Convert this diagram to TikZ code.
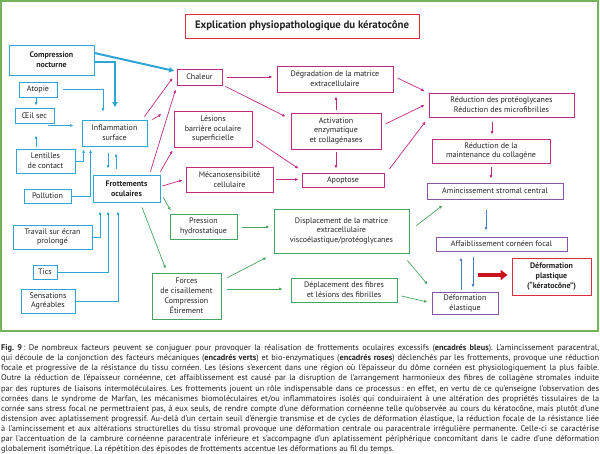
\documentclass[tikz,border=0pt]{standalone}
\usepackage{fontspec}
\setmainfont{PT Sans}
\usetikzlibrary{arrows.meta,calc}
\definecolor{blueC}{RGB}{45,165,215}
\definecolor{pinkC}{RGB}{195,40,130}
\definecolor{purpC}{RGB}{135,85,160}
\definecolor{greenC}{RGB}{70,165,95}
\definecolor{frameG}{RGB}{115,180,90}
\definecolor{redC}{RGB}{215,45,60}
\definecolor{darkredC}{RGB}{200,20,30}
\definecolor{steelC}{RGB}{75,125,195}
\definecolor{textC}{RGB}{35,35,35}
\newcommand\nfont{\fontsize{8}{9.9}\selectfont}
\newcommand\capline[1]{\makebox[598pt][s]{#1}}
\frenchspacing
\tikzset{
  box/.style={draw, line width=0.8pt, fill=white, inner sep=0pt, align=center, text=textC, font=\nfont},
  bb/.style={box, draw=blueC},
  pb/.style={box, draw=pinkC},
  gb/.style={box, draw=greenC},
  ub/.style={box, draw=purpC},
  rb/.style={box, draw=redC},
  ab/.style={draw=blueC, line width=0.7pt, -{Latex[length=3.5pt,width=3pt]}},
  abt/.style={draw=blueC, line width=2pt, -{Latex[length=5.5pt,width=6pt]}},
  ap/.style={draw=pinkC, line width=0.7pt, -{Latex[length=3.5pt,width=3pt]}},
  ag/.style={draw=greenC, line width=0.7pt, -{Latex[length=3.5pt,width=3pt]}},
  as/.style={draw=steelC, line width=0.7pt, -{Latex[length=3.5pt,width=3pt]}},
  ar/.style={draw=darkredC, line width=3.5pt, -{Triangle[length=7pt,width=10pt]}},
}
\begin{document}
\begin{tikzpicture}[x=1pt,y=-1pt]
\useasboundingbox (0,0) rectangle (600,454);
\draw[frameG, line width=1.3pt] (1,1) rectangle (598,331);
% title
\node[rb, minimum width=234pt, minimum height=24pt, font=\fontsize{10.8}{12}\selectfont\bfseries] (title) at (302,26) {Explication physiopathologique du kératocône};
% blue
\node[bb, minimum width=85pt, minimum height=30pt, font=\nfont\bfseries] (comp) at (51.5,60) {Compression\\nocturne};
\node[bb, minimum width=38pt, minimum height=15pt] (atopie) at (38,89.5) {Atopie};
\node[bb, minimum width=39pt, minimum height=15pt] (oeil) at (34.5,115.5) {Œil sec};
\node[bb, minimum width=65pt, minimum height=26pt] (infl) at (114.5,133) {Inflammation\\surface};
\node[bb, minimum width=59pt, minimum height=24pt] (lent) at (45.5,161) {Lentilles\\de contact};
\node[bb, minimum width=47pt, minimum height=14pt] (poll) at (47.5,196) {Pollution};
\node[bb, minimum width=67pt, minimum height=27pt, font=\nfont\bfseries] (frot) at (126.5,188.5) {Frottements\\oculaires};
\node[bb, minimum width=79pt, minimum height=24pt] (trav) at (52.5,237) {Travail sur écran\\prolongé};
\node[bb, minimum width=24pt, minimum height=14pt] (tics) at (45,272) {Tics};
\node[bb, minimum width=54pt, minimum height=24pt] (sens) at (48,301) {Sensations\\Agréables};
% pink
\node[pb, minimum width=45pt, minimum height=16pt] (chal) at (199.5,77) {Chaleur};
\node[pb, minimum width=78pt, minimum height=36pt] (les) at (213,129) {Lésions\\barrière oculaire\\superficielle};
\node[pb, minimum width=116pt, minimum height=26pt] (degr) at (335,79) {Dégradation de la matrice\\extracellulaire};
\node[pb, minimum width=90pt, minimum height=36pt] (act) at (336,131) {Activation\\enzymatique\\et collagénases};
\node[pb, minimum width=82pt, minimum height=14pt] (apop) at (343,180) {Apoptose};
\node[pb, minimum width=87pt, minimum height=25pt] (meca) at (229.5,179.5) {Mécanosensibilité\\cellulaire};
\node[pb, minimum width=145pt, minimum height=24pt] (redp) at (501.5,105) {Réduction des protéoglycanes\\Réduction des microfibrilles};
\node[pb, minimum width=118pt, minimum height=24pt] (redm) at (491,151) {Réduction de la\\maintenance du collagène};
% purple
\node[ub, minimum width=136pt, minimum height=16pt] (amin) at (495,191) {Amincissement stromal central};
\node[ub, minimum width=131pt, minimum height=14pt] (affa) at (501.5,244) {Affaiblissement cornéen focal};
\node[ub, minimum width=66pt, minimum height=22pt] (defe) at (465,303) {Déformation\\élastique};
% red
\node[rb, minimum width=79pt, minimum height=37pt, font=\nfont\bfseries] (defp) at (551.5,276.5) {Déformation\\plastique\\(“kératocône”)};
% green
\node[gb, minimum width=67pt, minimum height=25pt] (pres) at (203.5,226.5) {Pression\\hydrostatique};
\node[gb, minimum width=69pt, minimum height=46pt] (forc) at (186.5,296) {Forces\\de cisaillement\\Compression\\Étirement};
\node[gb, minimum width=135pt, minimum height=44pt] (disp) at (341.5,231) {Displacement de la matrice\\extracellulaire\\viscoélastique/protéoglycanes};
\node[gb, minimum width=106pt, minimum height=24pt] (depl) at (344,290) {Déplacement des fibres\\et lésions des fibrilles};
% blue arrows
\draw[abt] ($(comp.east)+(0,-7)$) -- ($(chal.west)+(-2,-6)$);
\draw[abt] ($(comp.east)+(0,2)$) -| ($(infl.north)+(0.5,-12)$);
\draw[ab] ($(atopie.east)+(6,0)$) -| ($(infl.north)+(-11.5,-8)$);
\draw[ab] ($(atopie.south)+(-2,1)$) -- ($(oeil.north)+(1.5,-2)$);
\draw[ab] ($(oeil.south east)+(-6,2)$) -- ($(oeil.south east -| infl.west)+(-8,2)$);
\draw[ab] ($(lent.north)+(-9.5,-2)$) -- ($(oeil.south)+(1.5,12)$);
\draw[ab] (lent.east) -| ($(infl.south west)+(2,3)$);
\draw[ab] (poll.east) -| ($(infl.south west)+(9,3)$);
\draw[ab] ($(infl.south)+(-6.5,7)$) -- ($(frot.north)+(-18.5,-6)$);
\draw[ab] ($(frot.north)+(-10.5,-6)$) -- ($(infl.south)+(1.5,7)$);
\draw[ab] (trav.east) -| ($(frot.south)+(-26.5,9)$);
\draw[ab] (tics.east) -| ($(frot.south)+(-18.5,9)$);
\draw[ab] (sens.east) -| ($(frot.south)+(-8.5,9)$);
% pink arrows
\draw[ap] ($(infl.north east)+(-3,-3)$) -- ($(chal.west)+(-4,1)$);
\draw[ap] ($(infl.north east)+(5,0)$) -- ($(les.west)+(-12,-15)$);
\draw[ap] ($(frot.north east)+(-10,-3)$) -- ($(chal.south west)+(-1,4)$);
\draw[ap] ($(frot.north east)+(0,-3)$) -- ($(les.south west)+(-1,3)$);
\draw[ap] ($(frot.east)+(2,-2.5)$) -- ($(meca.west)+(-3,0.5)$);
\draw[ap] ($(chal.east)+(5,0)$) -- ($(chal.east -| degr.west)+(-4,0)$);
\draw[ap] ($(chal.south east)+(3,1)$) -- ($(act.north west)+(-5,4)$);
\draw[ap] ($(act.north)+(0,-3)$) -- ($(act.north |- degr.south)+(0,4)$);
\draw[ap] ($(act.south)+(0,3)$) -- ($(act.south |- apop.north)+(0,-4)$);
\draw[ap] ($(les.south east)+(4,-7)$) -- ($(apop.north west)+(-3,-4)$);
\draw[ap] ($(meca.east)+(3,0)$) -- ($(meca.east -| apop.west)+(-3,0)$);
\draw[ap] ($(degr.east)+(4,-1)$) -- ($(redp.west)+(-4,-14)$);
\draw[ap] ($(act.east)+(4,-7)$) -- ($(redp.west)+(-4,0)$);
\draw[ap] ($(apop.east)+(5,-11)$) -- ($(redp.south west)+(-3,4)$);
\draw[ap] ($(redp.south)+(-9.5,5)$) -- ($(redm.north)+(1,-4)$);
\draw[ap] ($(redm.south)+(0,4)$) -- ($(amin.north)+(-4,-4)$);
% steel / red
\draw[as] ($(amin.south)+(-9,11)$) -- ($(affa.north)+(-15.5,-6)$);
\draw[as] ($(defe.north)+(-4,-2)$) -- ($(affa.south)+(-40.5,6)$);
\draw[as] ($(affa.south)+(-28.5,6)$) -- ($(defe.north)+(8,-4)$);
\draw[ar] ($(defp.west)+(-34,-1.5)$) -- ($(defp.west)+(-4,-1.5)$);
% green arrows
\draw[ag] ($(frot.south east)+(3,-5)$) -- ($(pres.north west)+(1,-3)$);
\draw[ag] ($(frot.south)+(15.5,5)$) -- ($(forc.north west)+(14,-4)$);
\draw[ag] ($(pres.east)+(5,0.5)$) -- ($(pres.east -| disp.west)+(-4,0.5)$);
\draw[ag] ($(forc.north east)+(6,5)$) -- ($(disp.south west)+(-7,4)$);
\draw[ag] ($(forc.east)+(6,-7)$) -- ($(forc.east -| depl.west)+(-8,-7)$);
\draw[ag] ($(disp.north east)+(7,17)$) -- ($(amin.south west)+(16,6)$);
\draw[ag] ($(disp.south east)+(-2,7)$) -- ($(defe.north west)+(-4,-7)$);
\draw[ag] ($(depl.east)+(4,6)$) -- ($(defe.west)+(-4,-1)$);
% caption
\node[anchor=north west, inner sep=0pt, align=left, text=textC, font=\fontsize{8.3}{10.1}\selectfont] (cap) at (1,344.5) {%
\capline{\textbf{Fig. 9}\,: De nombreux facteurs peuvent se conjuguer pour provoquer la réalisation de frottements oculaires excessifs (\textbf{encadrés bleus}). L’amincissement paracentral,}\\
\capline{qui découle de la conjonction des facteurs mécaniques (\textbf{encadrés verts}) et bio-enzymatiques (\textbf{encadrés roses}) déclenchés par les frottements, provoque une réduction}\\
\capline{focale et progressive de la résistance du tissu cornéen. Les lésions s’exercent dans une région où l’épaisseur du dôme cornéen est physiologiquement la plus faible.}\\
\capline{Outre la réduction de l’épaisseur cornéenne, cet affaiblissement est causé par la disruption de l’arrangement harmonieux des fibres de collagène stromales induite}\\
\capline{par des ruptures de liaisons intermoléculaires. Les frottements jouent un rôle indispensable dans ce processus\,: en effet, en vertu de ce qu’enseigne l’observation des}\\
\capline{cornées dans le syndrome de Marfan, les mécanismes biomoléculaires et/ou inflammatoires isolés qui conduiraient à une altération des propriétés tissulaires de la}\\
\capline{cornée sans stress focal ne permettraient pas, à eux seuls, de rendre compte d’une déformation cornéenne telle qu’observée au cours du kératocône, mais plutôt d’une}\\
\capline{distension avec aplatissement progressif. Au-delà d’un certain seuil d’énergie transmise et de cycles de déformation élastique, la réduction focale de la résistance liée}\\
\capline{à l’amincissement et aux altérations structurelles du tissu stromal provoque une déformation centrale ou paracentrale irrégulière permanente. Celle-ci se caractérise}\\
\capline{par l’accentuation de la cambrure cornéenne paracentrale inférieure et s’accompagne d’un aplatissement périphérique concomitant dans le cadre d’une déformation}\\
globalement isométrique. La répétition des épisodes de frottements accentue les déformations au fil du temps.};
\end{tikzpicture}
\end{document}
